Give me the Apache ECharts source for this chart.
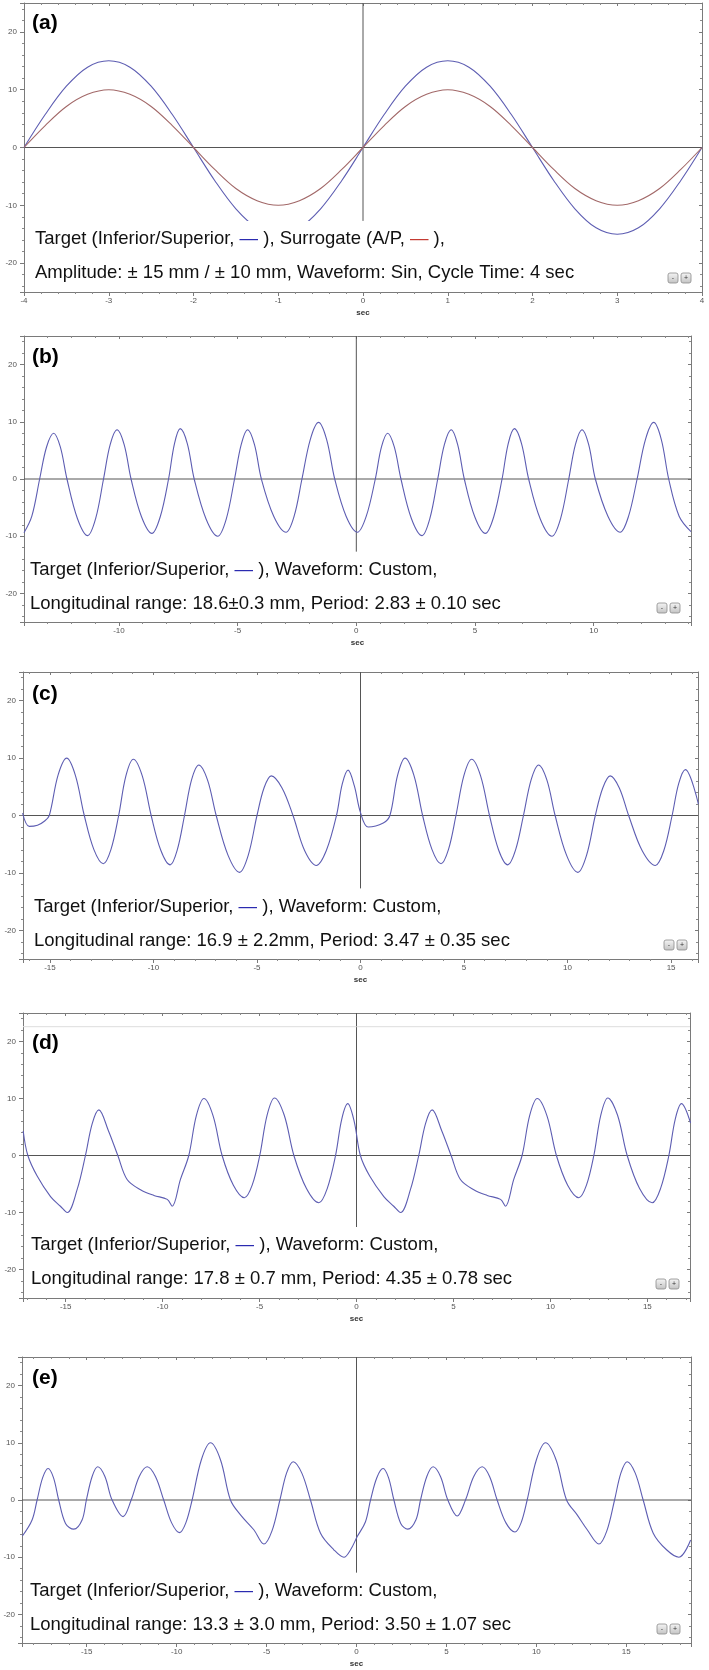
<!DOCTYPE html>
<html>
<head>
<meta charset="utf-8">
<title>Respiratory waveforms</title>
<script src="https://cdn.jsdelivr.net/npm/echarts@6.0.0/dist/echarts.min.js"></script>
<style>
  html, body { margin: 0; padding: 0; background: #fff; }
  #chart { width: 709px; height: 1670px; }
</style>
</head>
<body>
<div id="chart"></div>
<script>
// ---- data ----
// (a) sinusoid, target and surrogate
const aT = [-4, -3.75, -3.5, -3.25, -3, -2.75, -2.5, -2.25, -2, -1.75, -1.5, -1.25, -1, -0.75, -0.5, -0.25, 0,
  0.25, 0.5, 0.75, 1, 1.25, 1.5, 1.75, 2, 2.25, 2.5, 2.75, 3, 3.25, 3.5, 3.75, 4];
const aTarget = [0, 5.7, 10.6, 13.9, 15, 13.9, 10.6, 5.7, 0, -5.7, -10.6, -13.9, -15, -13.9, -10.6, -5.7, 0,
  5.7, 10.6, 13.9, 15, 13.9, 10.6, 5.7, 0, -5.7, -10.6, -13.9, -15, -13.9, -10.6, -5.7, 0];
const aSurrogate = [0, 3.8, 7.1, 9.2, 10, 9.2, 7.1, 3.8, 0, -3.8, -7.1, -9.2, -10, -9.2, -7.1, -3.8, 0,
  3.8, 7.1, 9.2, 10, 9.2, 7.1, 3.8, 0, -3.8, -7.1, -9.2, -10, -9.2, -7.1, -3.8, 0];

// (b)
const bT = [-14.0, -13.67, -13.34, -13.05, -12.75, -12.47, -12.19, -11.75, -11.32, -10.98, -10.65, -10.37, -10.08,
  -9.78, -9.49, -9.05, -8.61, -8.26, -7.91, -7.66, -7.42, -7.12, -6.83, -6.33, -5.84, -5.48, -5.13, -4.85, -4.58,
  -4.29, -4.0, -3.48, -2.96, -2.62, -2.29, -1.94, -1.59, -1.25, -0.91, -0.43, 0.05, 0.42, 0.8, 1.06, 1.32, 1.6,
  1.88, 2.32, 2.77, 3.1, 3.43, 3.71, 4.0, 4.27, 4.55, 4.99, 5.44, 5.79, 6.14, 6.4, 6.66, 6.96, 7.26, 7.75, 8.24,
  8.6, 8.95, 9.23, 9.51, 9.79, 10.07, 10.6, 11.12, 11.47, 11.83, 12.18, 12.53, 12.85, 13.16, 13.6, 14.1];
const bY = [-9.4, -6.5, 0, 5.6, 8.0, 5.6, 0, -6.9, -9.9, -6.9, 0, 6.0, 8.6, 6.0, 0, -6.6, -9.5, -6.6, 0, 6.2,
  8.8, 6.2, 0, -7.0, -10.0, -7.0, 0, 6.0, 8.6, 6.0, 0, -6.5, -9.3, -6.5, 0, 6.9, 9.9, 6.9, 0, -6.5, -9.3, -6.5,
  0, 5.6, 8.0, 5.6, 0, -6.9, -9.9, -6.9, 0, 6.0, 8.6, 6.0, 0, -6.6, -9.5, -6.6, 0, 6.2, 8.8, 6.2, 0, -7.0, -10.0,
  -7.0, 0, 6.0, 8.6, 6.0, 0, -6.5, -9.3, -6.5, 0, 6.9, 9.9, 6.9, 0, -6.5, -9.2];

// (c)
const cT = [-16.32, -16.0, -15.6, -15.27, -15.03, -14.61, -14.19, -13.77, -13.34, -12.88, -12.42, -12.05, -11.68,
  -11.33, -10.97, -10.54, -10.11, -9.65, -9.19, -8.85, -8.5, -8.16, -7.81, -7.39, -6.97, -6.4, -5.84, -5.42, -5.0,
  -4.66, -4.31, -3.79, -3.26, -2.7, -2.13, -1.65, -1.16, -0.88, -0.6, -0.3, 0.0, 0.37, 1.1, 1.42, 1.79, 2.15,
  2.58, 3.0, 3.45, 3.89, 4.25, 4.61, 4.99, 5.37, 5.8, 6.23, 6.67, 7.11, 7.49, 7.87, 8.24, 8.6, 9.0, 9.4, 9.95,
  10.5, 10.92, 11.34, 11.7, 12.06, 12.5, 12.95, 13.6, 14.24, 14.65, 15.05, 15.37, 15.69, 16.32];
const cY = [0.4, -1.9, -1.7, -1.0, 0, 7.0, 10.0, 7.0, 0, -5.9, -8.4, -5.9, 0, 6.9, 9.8, 6.9, 0, -6.0, -8.6, -6.0,
  0, 6.2, 8.8, 6.2, 0, -6.9, -9.9, -6.9, 0, 4.8, 6.9, 4.8, 0, -6.1, -8.7, -6.1, 0, 5.5, 7.9, 5.2, 0.5, -2.0, -1.3,
  0, 7.0, 10.0, 7.0, 0, -5.9, -8.4, -5.9, 0, 6.9, 9.8, 6.9, 0, -6.0, -8.6, -6.0, 0, 6.2, 8.8, 6.2, 0, -6.9, -9.9,
  -6.9, 0, 4.8, 6.9, 4.8, 0, -6.1, -8.7, -6.1, 0, 5.6, 8.0, 2.0];

// (d)
const dT = [-17.19, -16.95, -16.47, -15.78, -15.27, -14.92, -14.41, -13.98, -13.63, -13.29, -12.8, -12.31, -11.83,
  -11.14, -10.45, -9.76, -9.51, -9.08, -8.65, -8.26, -7.87, -7.4, -6.93, -6.35, -5.78, -5.38, -4.99, -4.61, -4.23,
  -3.73, -3.23, -2.58, -1.94, -1.51, -1.08, -0.76, -0.45, -0.12, 0.2, 0.68, 1.41, 1.92, 2.27, 2.78, 3.21, 3.56,
  3.9, 4.39, 4.88, 5.36, 6.05, 6.74, 7.43, 7.68, 8.11, 8.54, 8.93, 9.32, 9.82, 10.31, 10.89, 11.47, 11.86, 12.24,
  12.6, 12.96, 13.46, 13.96, 14.6, 15.25, 15.68, 16.11, 16.44, 16.76, 17.23];
const dY = [4.3, 0, -3.6, -7.2, -8.9, -10.0, -6.0, 0, 5.6, 8.0, 4.4, 0, -4.2, -6.0, -7.0, -7.7, -8.9, -4.2, 0,
  7.0, 10.0, 7.0, 0, -5.2, -7.4, -5.2, 0, 7.1, 10.1, 7.1, 0, -5.8, -8.3, -5.8, 0, 6.4, 9.1, 6.0, 0, -3.6, -7.2,
  -8.9, -10.0, -6.0, 0, 5.6, 8.0, 4.4, 0, -4.2, -6.0, -7.0, -7.7, -8.9, -4.2, 0, 7.0, 10.0, 7.0, 0, -5.2, -7.4,
  -5.2, 0, 7.1, 10.1, 7.1, 0, -5.8, -8.3, -5.8, 0, 6.4, 9.1, 5.7];

// (e)
const eT = [-18.58, -18.04, -17.76, -17.45, -17.15, -16.85, -16.56, -16.18, -15.72, -15.26, -15.02, -14.7, -14.39,
  -13.99, -13.59, -12.98, -12.53, -12.08, -11.64, -11.18, -10.72, -10.28, -9.84, -9.49, -9.14, -8.63, -8.12, -7.56,
  -7.01, -6.45, -5.71, -5.15, -4.7, -4.26, -3.89, -3.52, -3.04, -2.56, -2.0, -1.26, -0.7, -0.33, 0.04, 0.5, 0.78,
  1.13, 1.48, 1.78, 2.08, 2.46, 2.85, 3.3, 3.56, 3.91, 4.26, 4.67, 5.08, 5.6, 6.06, 6.52, 6.99, 7.4, 7.82, 8.31,
  8.81, 9.15, 9.49, 10.0, 10.51, 11.1, 11.68, 12.27, 12.83, 13.48, 13.92, 14.35, 14.7, 15.05, 15.5, 15.94, 16.5,
  17.24, 17.93, 18.58];
const eY = [-6.3, -3.5, 0, 3.9, 5.5, 3.9, 0, -4.1, -5.1, -3.5, 0, 4.1, 5.8, 4.1, 0, -2.9, 0, 4.1, 5.8, 4.1, 0,
  -4.0, -5.7, -4.0, 0, 7.0, 10.0, 7.0, 0, -2.6, -5.2, -7.7, -5.4, 0, 4.7, 6.7, 4.7, 0, -5.8, -8.7, -10.0, -8.7,
  -6.4, -3.8, 0, 3.9, 5.5, 3.9, 0, -4.1, -5.1, -3.5, 0, 4.1, 5.8, 4.1, 0, -2.8, 0, 4.1, 5.8, 4.1, 0, -4.0, -5.6,
  -4.0, 0, 7.0, 10.0, 7.0, 0, -2.6, -5.2, -7.7, -5.4, 0, 4.7, 6.7, 4.7, 0, -5.8, -8.7, -10.0, -7.0];

// axis extents and tick steps
const X_MIN = [-4, -14, -16.3, -17.2, -18.6];
const X_MAX = [4, 14.1, 16.3, 17.2, 18.6];
const X_STEP = [1, 5, 5, 5, 5];
const Y_MIN = -25, Y_MAX = 25, Y_STEP = 10;
const VLINE_Y = [25, -12.7];      // x = 0 reference line
const FAINT_LINE_D = 22.6;        // faint guide line in (d)

// annotation texts
const PANEL_TAGS = ['(a)', '(b)', '(c)', '(d)', '(e)'];
const LINE1 = [
  'Target (Inferior/Superior, {b|—} ), Surrogate (A/P, {r|—} ),',
  'Target (Inferior/Superior, {b|—} ), Waveform: Custom,',
  'Target (Inferior/Superior, {b|—} ), Waveform: Custom,',
  'Target (Inferior/Superior, {b|—} ), Waveform: Custom,',
  'Target (Inferior/Superior, {b|—} ), Waveform: Custom,'
];
const LINE2 = [
  'Amplitude: ± 15 mm / ± 10 mm, Waveform: Sin, Cycle Time: 4 sec',
  'Longitudinal range: 18.6±0.3 mm, Period: 2.83 ± 0.10 sec',
  'Longitudinal range: 16.9 ± 2.2mm, Period: 3.47 ± 0.35 sec',
  'Longitudinal range: 17.8 ± 0.7 mm, Period: 4.35 ± 0.78 sec',
  'Longitudinal range: 13.3 ± 3.0 mm, Period: 3.50 ± 1.07 sec'
];

// ---- layout (pixels) ----
const GRIDS = [
  { left: 24, top: 3, width: 678, height: 289 },
  { left: 24, top: 336, width: 667, height: 286 },
  { left: 23, top: 672, width: 675, height: 287 },
  { left: 23, top: 1013, width: 667, height: 285 },
  { left: 22, top: 1357, width: 669, height: 286 }
];
const TEXT_X = [31, 26, 30, 27, 26];
const TEXT_DY = [218, 216, 217, 214, 216];
const TAG_DY = [20, 21, 22, 30, 21];

const BLUE = '#5d5db2';
const RED = '#a26868';
const AXIS = '#7a7a7a';
const FONT = '"Liberation Sans", Arial, sans-serif';

const zip = (t, y) => t.map((v, i) => [v, y[i]]);
const CURVES = [
  [{ data: zip(aT, aTarget), color: BLUE }, { data: zip(aT, aSurrogate), color: RED }],
  [{ data: zip(bT, bY), color: BLUE }],
  [{ data: zip(cT, cY), color: BLUE }],
  [{ data: zip(dT, dY), color: BLUE }],
  [{ data: zip(eT, eY), color: BLUE }]
];

const chart = echarts.init(document.getElementById('chart'));

const xAxis = [], yAxis = [], series = [], graphic = [];

GRIDS.forEach((g, i) => {
  const common = {
    type: 'value', gridIndex: i, splitLine: { show: false },
    axisLine: { show: true, onZero: false, lineStyle: { color: AXIS, width: 1 } },
    minorTick: { show: true, splitNumber: 5, length: 2, lineStyle: { color: '#8a8a8a' } }
  };
  const xc = Object.assign({}, common, {
    min: X_MIN[i], max: X_MAX[i], minInterval: X_STEP[i], maxInterval: X_STEP[i]
  });
  xAxis.push(Object.assign({}, xc, {
    position: 'bottom',
    axisTick: { show: true, length: 4, lineStyle: { color: AXIS } },
    axisLabel: {
      fontSize: 8, color: '#555', margin: 5, fontFamily: FONT,
      showMinLabel: i === 0, showMaxLabel: i === 0
    },
    name: 'sec', nameLocation: 'middle', nameGap: 17,
    nameTextStyle: { fontSize: 8, fontWeight: 'bold', color: '#333', fontFamily: FONT }
  }));
  xAxis.push(Object.assign({}, xc, {
    position: 'top',
    axisTick: { show: true, inside: true, length: 3, lineStyle: { color: AXIS } },
    axisLabel: { show: false }
  }));
  const yc = Object.assign({}, common, {
    min: Y_MIN, max: Y_MAX, minInterval: Y_STEP, maxInterval: Y_STEP
  });
  yAxis.push(Object.assign({}, yc, {
    position: 'left',
    axisTick: { show: true, length: 4, lineStyle: { color: AXIS } },
    axisLabel: {
      fontSize: 8, color: '#555', margin: 7, fontFamily: FONT,
      showMinLabel: false, showMaxLabel: false
    }
  }));
  yAxis.push(Object.assign({}, yc, {
    position: 'right',
    axisTick: { show: true, inside: true, length: 3, lineStyle: { color: AXIS } },
    axisLabel: { show: false }
  }));

  // reference lines through the origin
  const refLines = [
    { name: 'zeroY', type: 'line', xAxisIndex: 2 * i, yAxisIndex: 2 * i, showSymbol: false, silent: true,
      data: [[X_MIN[i], 0], [X_MAX[i], 0]], lineStyle: { color: '#555', width: 1 }, z: 1 },
    { name: 'zeroX', type: 'line', xAxisIndex: 2 * i, yAxisIndex: 2 * i, showSymbol: false, silent: true,
      data: [[0, VLINE_Y[0]], [0, VLINE_Y[1]]], lineStyle: { color: '#555', width: 1 }, z: 1 }
  ];
  if (i === 3) {
    refLines.push({ name: 'guide', type: 'line', xAxisIndex: 2 * i, yAxisIndex: 2 * i, showSymbol: false,
      silent: true, data: [[X_MIN[i], FAINT_LINE_D], [X_MAX[i], FAINT_LINE_D]],
      lineStyle: { color: '#dedede', width: 1 }, z: 1 });
  }
  series.push(...refLines);

  CURVES[i].forEach(c => {
    series.push({
      type: 'line', xAxisIndex: 2 * i, yAxisIndex: 2 * i, data: c.data,
      showSymbol: false, smooth: 0.35, silent: true, clip: true,
      lineStyle: { color: c.color, width: 1.1 }, z: 2
    });
  });

  // panel tag
  graphic.push({
    type: 'text', z: 100,
    style: {
      text: PANEL_TAGS[i], x: 32, y: g.top + TAG_DY[i], verticalAlign: 'middle',
      fontSize: 21, fontWeight: 'bold', fontFamily: FONT, fill: '#000'
    }
  });
  // annotation, white box behind it hides what lies under it
  graphic.push({
    type: 'text', z: 100,
    style: {
      text: LINE1[i] + '\n' + LINE2[i],
      x: TEXT_X[i], y: g.top + TEXT_DY[i], verticalAlign: 'top',
      fontSize: 18.5, fontFamily: FONT, fill: '#111', lineHeight: 34,
      backgroundColor: '#fff', padding: [1, 4, 0, 4],
      rich: {
        b: { fill: '#2b2bb0', fontSize: 18.5, fontFamily: FONT, lineHeight: 34 },
        r: { fill: '#c43a32', fontSize: 18.5, fontFamily: FONT, lineHeight: 34 }
      }
    }
  });
  // zoom buttons
  const right = g.left + g.width, bottom = g.top + g.height;
  [['-', right - 34], ['+', right - 21]].forEach(([s, bx]) => {
    graphic.push({
      type: 'rect', z: 101,
      shape: { x: bx, y: bottom - 19, width: 10, height: 10, r: 2 },
      style: {
        fill: new echarts.graphic.LinearGradient(0, 0, 0, 1, [
          { offset: 0, color: '#f6f6f6' }, { offset: 1, color: '#c2c2c2' }
        ]),
        stroke: '#8c8c8c', lineWidth: 0.8
      }
    });
    graphic.push({
      type: 'text', z: 102,
      style: { text: s, x: bx + 5, y: bottom - 14, align: 'center', verticalAlign: 'middle',
        fontSize: 7, fontFamily: FONT, fill: '#333' }
    });
  });
});

chart.setOption({
  animation: false,
  backgroundColor: '#fff',
  grid: GRIDS.map(g => Object.assign({ show: false }, g)),
  xAxis: xAxis,
  yAxis: yAxis,
  series: series,
  graphic: graphic
});
</script>
</body>
</html>
